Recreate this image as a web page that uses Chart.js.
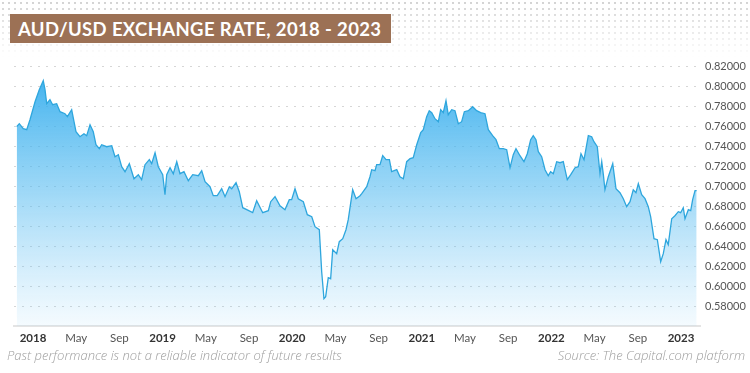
<!DOCTYPE html>
<html>
<head>
<meta charset="utf-8">
<script src="https://cdn.jsdelivr.net/npm/chart.js@4"></script>
<style>
  html, body { margin: 0; padding: 0; background: #fff; }
  #wrap { position: relative; width: 750px; height: 373px; overflow: hidden; font-family: Lato, sans-serif; }
  #dots {
    position: absolute; left: 0; top: 0; width: 750px; height: 58px;
    background-image: radial-gradient(circle, #d2d2d2 0.9px, transparent 1.3px);
    background-size: 6px 6px;
    -webkit-mask-image: linear-gradient(to bottom, rgba(0,0,0,1), rgba(0,0,0,0));
    mask-image: linear-gradient(to bottom, rgba(0,0,0,1), rgba(0,0,0,0));
  }
  #title {
    position: absolute; left: 10px; top: 14px; width: 381px; height: 29px;
    background: #9c7155; color: #fff; font-weight: 700; font-size: 18.5px; letter-spacing: 0.35px;
    line-height: 30px; padding-left: 8px; box-sizing: border-box; white-space: nowrap;
  }
  canvas { position: absolute; left: 0; top: 0; }
  .foot { position: absolute; top: 346px; font-family: "Open Sans", sans-serif; font-size: 13px; font-weight: 300; font-style: italic; color: #9e9e9e; white-space: nowrap; }
  #note { left: 7px; }
  #src { right: 5px; }
</style>
</head>
<body>
<div id="wrap">
  <div id="dots"></div>
  <canvas id="chart" width="750" height="373"></canvas>
  <div id="title">AUD/USD EXCHANGE RATE, 2018 - 2023</div>
  <div class="foot" id="note">Past performance is not a reliable indicator of future results</div>
  <div class="foot" id="src">Source: The Capital.com platform</div>
</div>
<script>
// x = months since Jan 2018, y = AUD/USD rate
const months = [
  -1.51, -1.27, -0.90, -0.58, -0.28, 0.19, 0.58, 0.95, 1.11, 1.27, 1.57, 1.82, 2.19, 2.5, 2.96, 3.18, 3.58, 3.98,
  4.35, 4.72, 4.97, 5.28, 5.58, 5.83, 6.14, 6.36, 6.82, 7.29, 7.59, 7.9, 8.21, 8.52, 8.92, 9.35, 9.75, 10.06,
  10.37, 10.77, 10.99, 11.3, 11.6, 12.01, 12.22, 12.38, 12.69, 12.99, 13.31, 13.61, 13.98, 14.38, 14.79, 15.31,
  15.62, 15.93, 16.39, 16.69, 17.06, 17.47, 17.78, 18.18, 18.4, 18.8, 19.1, 19.42, 19.79, 20.34, 20.71, 21.27,
  21.79, 22.01, 22.41, 22.87, 23.33, 23.73, 23.95, 24.26, 24.56, 25.03, 25.4, 25.81, 26.11, 26.51, 26.73, 26.94,
  27.1, 27.34, 27.56, 27.75, 28.12, 28.36, 28.68, 28.98, 29.19, 29.6, 29.91, 30.28, 30.44, 30.9, 31.2, 31.36,
  31.67, 31.82, 32.13, 32.38, 32.69, 33.0, 33.21, 33.68, 33.98, 34.29, 34.6, 34.91, 35.21, 35.53, 35.9, 36.14,
  36.45, 36.69, 36.92, 37.22, 37.53, 37.75, 37.99, 38.24, 38.45, 38.77, 39.07, 39.38, 39.69, 39.94, 40.31, 40.71,
  41.08, 41.45, 41.85, 42.16, 42.56, 42.87, 43.18, 43.55, 43.86, 44.17, 44.47, 44.72, 45.09, 45.46, 45.77, 46.08,
  46.32, 46.57, 46.79, 47.1, 47.41, 47.71, 47.93, 48.18, 48.49, 48.8, 49.1, 49.47, 49.79, 50.19, 50.49, 50.74,
  51.02, 51.27, 51.42, 51.73, 51.94, 52.25, 52.5, 52.66, 52.81, 52.96, 53.27, 53.68, 53.98, 54.35, 54.66, 54.97,
  55.28, 55.58, 55.83, 56.05, 56.36, 56.67, 56.97, 57.19, 57.5, 57.81, 58.12, 58.36, 58.61, 58.82, 59.14, 59.44,
  59.75, 59.97, 60.21, 60.37, 60.68, 60.9, 61.08, 61.3, 61.45
];
const rates = [
  0.760, 0.763, 0.758, 0.757, 0.767, 0.785, 0.797, 0.806, 0.797, 0.783, 0.787, 0.782, 0.783, 0.775, 0.773, 0.770, 0.777, 0.755,
  0.750, 0.753, 0.751, 0.762, 0.755, 0.742, 0.738, 0.742, 0.740, 0.741, 0.730, 0.732, 0.720, 0.715, 0.723, 0.708, 0.712, 0.707,
  0.722, 0.727, 0.723, 0.734, 0.720, 0.712, 0.692, 0.712, 0.719, 0.713, 0.725, 0.713, 0.715, 0.706, 0.712, 0.711,
  0.716, 0.705, 0.700, 0.691, 0.691, 0.698, 0.690, 0.700, 0.698, 0.704, 0.695, 0.679, 0.677, 0.674, 0.686, 0.674,
  0.676, 0.685, 0.690, 0.681, 0.677, 0.687, 0.687, 0.698, 0.688, 0.685, 0.672, 0.670, 0.660, 0.657, 0.615, 0.588,
  0.590, 0.609, 0.608, 0.637, 0.633, 0.645, 0.648, 0.657, 0.667, 0.697, 0.688, 0.691, 0.693, 0.700, 0.710, 0.717,
  0.716, 0.722, 0.722, 0.731, 0.727, 0.727, 0.715, 0.717, 0.710, 0.708, 0.725, 0.728, 0.729, 0.742, 0.754, 0.757,
  0.770, 0.776, 0.774, 0.768, 0.765, 0.777, 0.774, 0.786, 0.772, 0.777, 0.776, 0.763, 0.765, 0.775, 0.776, 0.780,
  0.776, 0.774, 0.773, 0.757, 0.751, 0.747, 0.738, 0.738, 0.737, 0.719, 0.732, 0.738, 0.731, 0.725, 0.733, 0.747,
  0.751, 0.747, 0.735, 0.730, 0.717, 0.711, 0.715, 0.713, 0.725, 0.724, 0.725, 0.707, 0.712, 0.719, 0.720, 0.733,
  0.727, 0.742, 0.751, 0.750, 0.745, 0.740, 0.713, 0.725, 0.712, 0.697, 0.710, 0.723, 0.698, 0.694, 0.688, 0.680,
  0.685, 0.697, 0.694, 0.703, 0.692, 0.688, 0.680, 0.670, 0.648, 0.647, 0.625, 0.633, 0.647, 0.642, 0.668, 0.671,
  0.675, 0.674, 0.679, 0.668, 0.677, 0.676, 0.687, 0.696, 0.696
];

const xTickValues = [0, 4, 8, 12, 16, 20, 24, 28, 32, 36, 40, 44, 48, 52, 56, 60];
const xTickLabels = ["2018", "May", "Sep", "2019", "May", "Sep", "2020", "May", "Sep",
                     "2021", "May", "Sep", "2022", "May", "Sep", "2023"];
const yTickValues = [0.58, 0.60, 0.62, 0.64, 0.66, 0.68, 0.70, 0.72, 0.74, 0.76, 0.78, 0.80, 0.82];

const points = months.map((m, i) => ({ x: m, y: rates[i] }));

const ctx = document.getElementById("chart").getContext("2d");

new Chart(ctx, {
  type: "line",
  data: {
    datasets: [{
      data: points,
      borderColor: "#2ea6dd",
      borderWidth: 1.3,
      pointRadius: 0,
      tension: 0,
      fill: "start",
      backgroundColor: function (context) {
        const area = context.chart.chartArea;
        if (!area) return "rgba(46,166,221,0.5)";
        const g = context.chart.ctx.createLinearGradient(0, area.top, 0, area.bottom);
        g.addColorStop(0, "rgba(40,168,236,0.95)");
        g.addColorStop(0.5, "rgba(80,185,240,0.55)");
        g.addColorStop(1, "rgba(120,200,245,0.08)");
        return g;
      }
    }]
  },
  options: {
    responsive: false,
    animation: false,
    layout: { padding: { left: 14, top: 60, right: 0, bottom: 25 } },
    plugins: { legend: { display: false }, tooltip: { enabled: false } },
    scales: {
      x: {
        type: "linear",
        min: -1.76,
        max: 61.76,
        afterBuildTicks: function (axis) {
          axis.ticks = xTickValues.map(v => ({ value: v }));
        },
        afterFit: function (axis) { axis.height = 22; },
        grid: { display: false, drawTicks: false },
        border: { display: true, color: "#e4e4e4", width: 2 },
        ticks: {
          padding: 5,
          maxRotation: 0,
          autoSkip: false,
          callback: function (value, index) { return xTickLabels[index]; },
          color: function (c) { return (c.index % 3 === 0) ? "#333" : "#555"; },
          font: function (c) {
            return (c.index % 3 === 0)
              ? { family: "Lato", size: 11.5, weight: "bold" }
              : { family: "Lato", size: 11.5, weight: "normal" };
          }
        }
      },
      y: {
        position: "right",
        min: 0.5607,
        max: 0.8267,
        afterBuildTicks: function (axis) {
          axis.ticks = yTickValues.map(v => ({ value: v }));
        },
        afterFit: function (axis) { axis.width = 50; },
        grid: { color: "#d6d6d6", borderDash: [2, 6], drawTicks: false, lineWidth: 1 },
        border: { display: false, dash: [2, 6] },
        ticks: {
          padding: 5,
          color: "#555",
          font: { family: "Lato", size: 11 },
          callback: function (value) { return value.toFixed(5); }
        }
      }
    }
  }
});
</script>
</body>
</html>
